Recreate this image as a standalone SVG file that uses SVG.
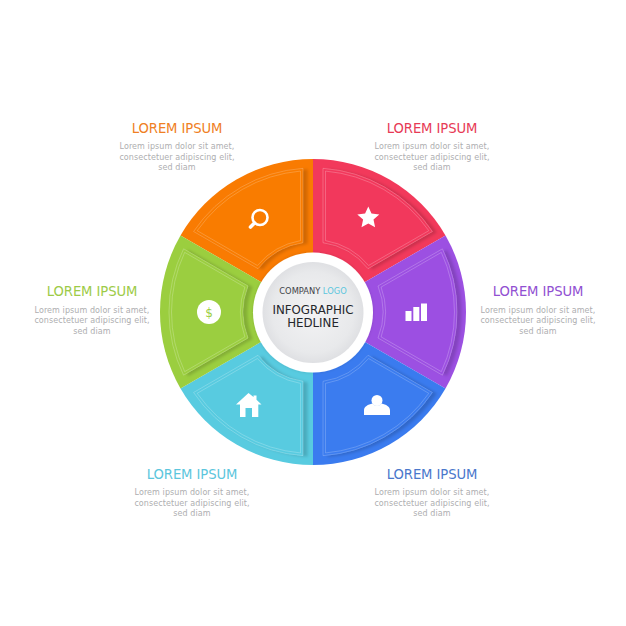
<svg xmlns="http://www.w3.org/2000/svg" xmlns:xlink="http://www.w3.org/1999/xlink" width="626" height="626" viewBox="0 0 626 626">
<style>
text{font-family:"DejaVu Sans","Liberation Sans",sans-serif;text-anchor:middle}
.t{font-size:13.200px;letter-spacing:-.1px}
.b{font-size:8px;fill:#aeaeb0;letter-spacing:.08px}
.line{fill:none;stroke:#fff;stroke-opacity:.25;stroke-width:.8}
.i{fill:#fff}
</style>
<defs>
<path id="sector" d="M0 0V-153A153 153 0 0 0-132.5-76.5Z"/>
<path id="panel" d="M-10-143.65A144 144 0 0 0-119.4-80.5L-55-43.3A70 70 0 0 1-10-69.3Z"/>
<path id="inset" d="M-12.5-140.95A141.500 141.500 0 0 0-115.8-81.3L-55.6-46.5A72.500 72.500 0 0 1-12.500-71.4Z"/>
<filter id="sh" x="-30%" y="-30%" width="160%" height="160%"><feDropShadow dx="4.500" dy="1" stdDeviation="1.500" flood-color="#000" flood-opacity=".16"/></filter>
<filter id="ring" x="-20%" y="-20%" width="140%" height="140%"><feDropShadow dx="0" dy="0" stdDeviation="1.500" flood-color="#000" flood-opacity=".14"/></filter>
<radialGradient id="disc" cx=".5" cy=".5" r=".5"><stop offset="0" stop-color="#f3f3f4"/><stop offset=".8" stop-color="#e8e9eb"/><stop offset="1" stop-color="#dfe0e3"/></radialGradient>
<clipPath id="c0"><use xlink:href="#sector" transform="translate(313 312)"/></clipPath>
<clipPath id="c1"><use xlink:href="#sector" transform="translate(313 312) rotate(60)"/></clipPath>
<clipPath id="c2"><use xlink:href="#sector" transform="translate(313 312) rotate(120)"/></clipPath>
<clipPath id="c3"><use xlink:href="#sector" transform="translate(313 312) rotate(180)"/></clipPath>
<clipPath id="c4"><use xlink:href="#sector" transform="translate(313 312) rotate(240)"/></clipPath>
<clipPath id="c5"><use xlink:href="#sector" transform="translate(313 312) rotate(300)"/></clipPath>
</defs>
<rect width="626" height="626" fill="#fff"/>

<g id="node-search" fill="#f97b02">
<use xlink:href="#sector" transform="translate(313 312)"/>
<g clip-path="url(#c0)"><g filter="url(#sh)"><use xlink:href="#panel" transform="translate(313 312)"/></g></g>
<use class="line" xlink:href="#panel" transform="translate(313 312)"/><use class="line" xlink:href="#inset" transform="translate(313 312)"/>
<circle cx="260" cy="217.500" r="7.500" fill="none" stroke="#fff" stroke-width="2.600"/>
<path d="M254.500 223L250.500 227" stroke="#fff" stroke-width="3.600" stroke-linecap="round"/>
<text class="t" x="177" y="132.500" fill="#ef8024">LOREM IPSUM</text>
<text class="b" x="177" y="149">Lorem ipsum dolor sit amet,</text>
<text class="b" x="177" y="159.500">consectetuer adipiscing elit,</text>
<text class="b" x="177" y="170">sed diam</text>
</g>

<g id="node-star" fill="#f2395b">
<use xlink:href="#sector" transform="translate(313 312) rotate(60)"/>
<g clip-path="url(#c1)"><g filter="url(#sh)"><use xlink:href="#panel" transform="translate(313 312) rotate(60)"/></g></g>
<use class="line" xlink:href="#panel" transform="translate(313 312) rotate(60)"/><use class="line" xlink:href="#inset" transform="translate(313 312) rotate(60)"/>
<path class="i" d="M368.300 206.500L371.500 213.600L379.300 214.400L373.500 219.600L375.100 227.300L368.300 223.400L361.500 227.300L363.100 219.600L357.300 214.400L365.100 213.600Z"/>
<text class="t" x="432" y="132.500" fill="#e73a56">LOREM IPSUM</text>
<text class="b" x="432" y="149">Lorem ipsum dolor sit amet,</text>
<text class="b" x="432" y="159.500">consectetuer adipiscing elit,</text>
<text class="b" x="432" y="170">sed diam</text>
</g>

<g id="node-chart" fill="#9c50e2">
<use xlink:href="#sector" transform="translate(313 312) rotate(120)"/>
<g clip-path="url(#c2)"><g filter="url(#sh)"><use xlink:href="#panel" transform="translate(313 312) rotate(120)"/></g></g>
<use class="line" xlink:href="#panel" transform="translate(313 312) rotate(120)"/><use class="line" xlink:href="#inset" transform="translate(313 312) rotate(120)"/>
<rect class="i" x="405.500" y="311" width="6" height="10"/><rect class="i" x="413.300" y="307" width="6" height="14"/><rect class="i" x="421" y="303.500" width="6" height="17.500"/>
<text class="t" x="538" y="295.500" fill="#9150d2">LOREM IPSUM</text>
<text class="b" x="538" y="312.500">Lorem ipsum dolor sit amet,</text>
<text class="b" x="538" y="323">consectetuer adipiscing elit,</text>
<text class="b" x="538" y="333.500">sed diam</text>
</g>

<g id="node-person" fill="#3a7bef">
<use xlink:href="#sector" transform="translate(313 312) rotate(180)"/>
<g clip-path="url(#c3)"><g filter="url(#sh)"><use xlink:href="#panel" transform="translate(313 312) rotate(180)"/></g></g>
<use class="line" xlink:href="#panel" transform="translate(313 312) rotate(180)"/><use class="line" xlink:href="#inset" transform="translate(313 312) rotate(180)"/>
<circle class="i" cx="377" cy="400.500" r="5.500"/>
<path class="i" d="M364 415V410.500C364 406.500 368 404.500 372.500 403.500C374.500 406.500 379.500 406.500 381.500 403.500C386 404.500 390 406.500 390 410.500V415Z"/>
<text class="t" x="432" y="478.500" fill="#4a78cc">LOREM IPSUM</text>
<text class="b" x="432" y="495">Lorem ipsum dolor sit amet,</text>
<text class="b" x="432" y="505.500">consectetuer adipiscing elit,</text>
<text class="b" x="432" y="516">sed diam</text>
</g>

<g id="node-home" fill="#58cbe0">
<use xlink:href="#sector" transform="translate(313 312) rotate(240)"/>
<g clip-path="url(#c4)"><g filter="url(#sh)"><use xlink:href="#panel" transform="translate(313 312) rotate(240)"/></g></g>
<use class="line" xlink:href="#panel" transform="translate(313 312) rotate(240)"/><use class="line" xlink:href="#inset" transform="translate(313 312) rotate(240)"/>
<path class="i" d="M248.500 393L253.500 397V395.500H256.500V399.800L261.500 404.500H258.300V417H252V408H245.500V417H240V404.500H236Z"/>
<text class="t" x="192" y="478.500" fill="#5cc6dd">LOREM IPSUM</text>
<text class="b" x="192" y="495">Lorem ipsum dolor sit amet,</text>
<text class="b" x="192" y="505.500">consectetuer adipiscing elit,</text>
<text class="b" x="192" y="516">sed diam</text>
</g>

<g id="node-dollar" fill="#9bce3f">
<use xlink:href="#sector" transform="translate(313 312) rotate(300)"/>
<g clip-path="url(#c5)"><g filter="url(#sh)"><use xlink:href="#panel" transform="translate(313 312) rotate(300)"/></g></g>
<use class="line" xlink:href="#panel" transform="translate(313 312) rotate(300)"/><use class="line" xlink:href="#inset" transform="translate(313 312) rotate(300)"/>
<circle class="i" cx="209" cy="312" r="12"/>
<text x="209" y="316.500" font-size="12">$</text>
<text class="t" x="92" y="295.500" fill="#9dcb48">LOREM IPSUM</text>
<text class="b" x="92" y="312.500">Lorem ipsum dolor sit amet,</text>
<text class="b" x="92" y="323">consectetuer adipiscing elit,</text>
<text class="b" x="92" y="333.500">sed diam</text>
</g>

<g id="node-center">
<circle cx="313" cy="312.500" r="60" fill="#fff" filter="url(#ring)"/>
<circle cx="313" cy="312.500" r="50.500" fill="url(#disc)"/>
<text x="313" y="294" font-size="8.300" fill="#3f4248">COMPANY <tspan fill="#5cc6dd">LOGO</tspan></text>
<text x="313" y="314" font-size="11.800" fill="#25272b">INFOGRAPHIC</text>
<text x="313" y="326.500" font-size="11.800" fill="#25272b">HEDLINE</text>
</g>
<g id="connectors"/>
</svg>
